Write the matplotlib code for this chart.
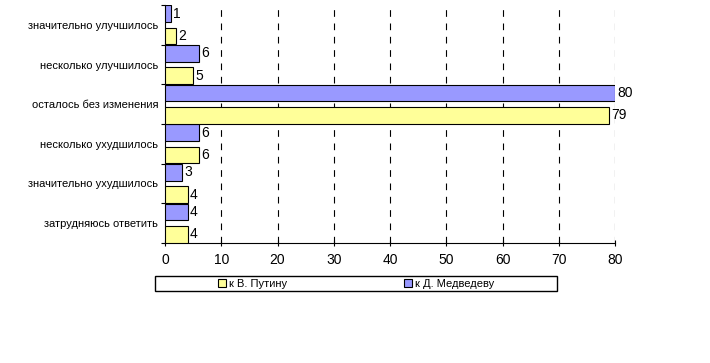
import numpy as np
import matplotlib.pyplot as plt
from matplotlib.patches import Rectangle, Patch

plt.rcParams['font.family'] = ['Liberation Sans', 'DejaVu Sans']

# Данные опроса
categories = ['значительно улучшилось', 'несколько улучшилось', 'осталось без изменения',
              'несколько ухудшилось', 'значительно ухудшилось', 'затрудняюсь ответить']
putin = [2, 5, 79, 6, 4, 4]
medvedev = [1, 6, 80, 6, 3, 4]
xticks = [0, 10, 20, 30, 40, 50, 60, 70, 80]

c_putin = '#FFFF99'
c_medv = '#9999FF'
fs_lab = 8
fs_num = 10

fig = plt.figure(figsize=(7.1, 3.63), dpi=100)
ax = fig.add_axes([0.2324, 0.3306, 0.6338, 0.6556])

y = np.arange(len(categories)) + 0.5
h = 0.42
ax.barh(y - 0.28, medvedev, height=h, color=c_medv, edgecolor='black', linewidth=0.8, zorder=3)
ax.barh(y + 0.285, putin, height=h, color=c_putin, edgecolor='black', linewidth=0.8, zorder=3)

for yi, v in zip(y, medvedev):
    ax.annotate(str(v), (v, yi - 0.28), xytext=(1.5, 0), textcoords='offset points',
                va='center', ha='left', fontsize=fs_num, zorder=4)
for yi, v in zip(y, putin):
    ax.annotate(str(v), (v, yi + 0.285), xytext=(1.5, 0), textcoords='offset points',
                va='center', ha='left', fontsize=fs_num, zorder=4)

ax.set_xlim(0, 80)
ax.set_ylim(len(categories), 0)
ax.set_xticks(xticks)
ax.set_xticklabels([str(t) for t in xticks], fontsize=fs_num)
ax.set_yticks(y)
ax.set_yticklabels(categories, fontsize=fs_lab)
ax.set_yticks(np.arange(len(categories) + 1), minor=True)
ax.tick_params(axis='y', which='major', length=0, pad=5)
ax.tick_params(axis='y', which='minor', length=3, direction='out', width=0.8)
ax.tick_params(axis='x', which='major', length=5, direction='inout', width=0.8, pad=5)

for t in xticks[1:]:
    ax.axvline(t, color='black', linestyle=(0, (6, 6)), linewidth=0.8, zorder=1)

for s in ['top', 'right']:
    ax.spines[s].set_visible(False)
ax.spines['left'].set_linewidth(0.8)
ax.spines['bottom'].set_linewidth(0.8)

# Легенда в рамке
fig.patches.append(Rectangle((0.2183, 0.1983), 0.5662, 0.0414, transform=fig.transFigure,
                             facecolor='white', edgecolor='black', linewidth=1))
handles = [Patch(facecolor=c_putin, edgecolor='black', linewidth=0.8, label='к В. Путину'),
           Patch(facecolor=c_medv, edgecolor='black', linewidth=0.8, label='к Д. Медведеву')]
fig.legend(handles=handles, loc='center', bbox_to_anchor=(0.5014, 0.219), ncol=2,
           frameon=False, fontsize=fs_lab, handlelength=0.7, handleheight=0.7,
           handletextpad=0.3, columnspacing=10.5)

fig.savefig('out.png', dpi=100)
